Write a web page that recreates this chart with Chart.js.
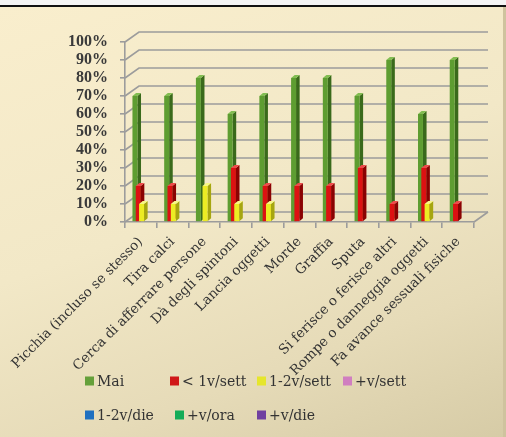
<!DOCTYPE html>
<html>
<head>
<meta charset="utf-8">
<script src="https://cdn.jsdelivr.net/npm/chart.js@4"></script>
<style>
  html, body { margin: 0; padding: 0; background: #f4f4f4; }
  #wrap { position: relative; width: 506px; height: 437px; overflow: hidden; }
  #bg {
    position: absolute; left: 0; top: 5px; width: 506px; height: 432px;
    border-top: 2px solid #111;
    background: linear-gradient(160deg, #f9eecd 0%, #f2e8c7 45%, #e6dbb8 75%, #d6cba6 100%);
  }
  #edge { position: absolute; right: 0; top: 7px; width: 3px; height: 430px; background: #cfc39e; }
  canvas { position: absolute; left: 0; top: 0; }
</style>
</head>
<body>
<div id="wrap">
  <div id="bg"></div>
  <div id="edge"></div>
  <canvas id="chart" width="506" height="437"></canvas>
</div>
<script>
// categorie e serie
const categories = [
  'Picchia (incluso se stesso)', 'Tira calci', 'Cerca di afferrare persone',
  'Dà degli spintoni', 'Lancia oggetti', 'Morde', 'Graffia', 'Sputa',
  'Si ferisce o ferisce altri', 'Rompe o danneggia oggetti', 'Fa avance sessuali fisiche'
];
const seriesNames = ['Mai', '< 1v/sett', '1-2v/sett', '+v/sett', '1-2v/die', '+v/ora', '+v/die'];
const mai         = [70, 70, 80, 60, 70, 80, 80, 70, 90, 60, 90];
const menoUnaSett = [20, 20, 0, 30, 20, 20, 20, 30, 10, 30, 10];
const unaDueSett  = [10, 10, 20, 10, 10, 0, 0, 0, 0, 10, 0];
const piuSett     = [0, 0, 0, 0, 0, 0, 0, 0, 0, 0, 0];
const unaDueDie   = [0, 0, 0, 0, 0, 0, 0, 0, 0, 0, 0];
const piuOra      = [0, 0, 0, 0, 0, 0, 0, 0, 0, 0, 0];
const piuDie      = [0, 0, 0, 0, 0, 0, 0, 0, 0, 0, 0];
const yTicks = [0, 10, 20, 30, 40, 50, 60, 70, 80, 90, 100];

const seriesValues = [mai, menoUnaSett, unaDueSett, piuSett, unaDueDie, piuOra, piuDie];
// front, side, top, legend
const palette = [
  ['#5e9d31', '#3a6a1b', '#82bd52', '#65a03a'],
  ['#dc1212', '#8a0202', '#ef4a4a', '#d01818'],
  ['#ecec24', '#a6a610', '#f7f784', '#e6e62c'],
  ['#d27cbc', '#925480', '#e6a6d6', '#d07ec0'],
  ['#1f6fbf', '#144c86', '#5a98d8', '#1f70c0'],
  ['#14a854', '#0c7038', '#4cc880', '#14ac58'],
  ['#7038a0', '#4c2470', '#9a68c4', '#7040a0'],
];

const DX = 14, DY = -10;      // profondità pareti
const BDX = 3.6, BDY = -3;    // profondità barre
const SHIFT = 4;

const wall3d = {
  id: 'wall3d',
  beforeDatasetsDraw(chart) {
    const { ctx, chartArea: a, scales } = chart;
    ctx.save();
    ctx.strokeStyle = '#9c9c9c';
    ctx.lineWidth = 1.6;
    yTicks.forEach((v) => {
      const y = scales.y.getPixelForValue(v);
      ctx.beginPath();
      ctx.moveTo(a.left, y);
      ctx.lineTo(a.left + DX, y + DY);
      ctx.lineTo(a.right + DX, y + DY);
      ctx.stroke();
    });
    ctx.beginPath();
    ctx.moveTo(a.right, a.bottom);
    ctx.lineTo(a.right + DX, a.bottom + DY);
    ctx.stroke();
    ctx.restore();
  },
  beforeDatasetDraw() {
    return false; // le barre sono disegnate sotto, in 3D
  },
  afterDatasetsDraw(chart) {
    const { ctx } = chart;
    ctx.save();
    for (let i = 0; i < categories.length; i++) {
      for (let d = 0; d < seriesValues.length; d++) {
        if (!seriesValues[d][i]) continue;
        const bar = chart.getDatasetMeta(d).data[i];
        const { x, y, base, width } = bar.getProps(['x', 'y', 'base', 'width'], true);
        const l = x - width / 2 + SHIFT, r = x + width / 2 + SHIFT;
        const [front, side, top] = palette[d];
        ctx.fillStyle = side;
        ctx.beginPath();
        ctx.moveTo(r, base);
        ctx.lineTo(r + BDX, base + BDY);
        ctx.lineTo(r + BDX, y + BDY);
        ctx.lineTo(r, y);
        ctx.closePath();
        ctx.fill();
        ctx.fillStyle = top;
        ctx.beginPath();
        ctx.moveTo(l, y);
        ctx.lineTo(l + BDX, y + BDY);
        ctx.lineTo(r + BDX, y + BDY);
        ctx.lineTo(r, y);
        ctx.closePath();
        ctx.fill();
        ctx.fillStyle = front;
        ctx.fillRect(l, y, r - l, base - y);
      }
    }
    ctx.restore();
  },
  afterDraw(chart) {
    // legenda in due righe, come nell'originale
    const { ctx } = chart;
    const rows = [[0, 1, 2, 3], [4, 5, 6]];
    const colX = [[85, 170, 257, 343], [85, 175, 257]];
    const rowY = [381, 415];
    ctx.save();
    ctx.font = '14px "DejaVu Serif"';
    ctx.textBaseline = 'middle';
    rows.forEach((row, ri) => {
      row.forEach((d, ci) => {
        const x = colX[ri][ci], y = rowY[ri];
        ctx.fillStyle = palette[d][3];
        ctx.fillRect(x, y - 4.5, 9, 9);
        ctx.fillStyle = '#333';
        ctx.fillText(seriesNames[d], x + 12, y + 1);
      });
    });
    ctx.restore();
  }
};

new Chart(document.getElementById('chart'), {
  type: 'bar',
  data: {
    labels: categories,
    datasets: seriesNames.map((name, d) => ({
      label: name,
      data: seriesValues[d],
      backgroundColor: palette[d][0],
      borderWidth: 0,
      categoryPercentage: 0.73,
      barPercentage: 1.5,
    })),
  },
  options: {
    responsive: false,
    animation: false,
    layout: { padding: { top: 42, right: 32, left: 0, bottom: 0 } },
    plugins: { legend: { display: false }, tooltip: { enabled: false } },
    scales: {
      x: {
        afterFit: (s) => { s.height = 215; },
        grid: { display: true, drawOnChartArea: false, tickLength: 6, color: '#9c9c9c', lineWidth: 1.6, offset: true },
        border: { display: true, color: '#9c9c9c', width: 1.6 },
        ticks: {
          minRotation: 45, maxRotation: 45, autoSkip: false, padding: 6,
          color: '#333', font: { family: 'DejaVu Serif', size: 13.5 },
        },
      },
      y: {
        min: 0, max: 100,
        afterFit: (s) => { s.width = 125; },
        afterBuildTicks: (s) => { s.ticks = yTicks.map((v) => ({ value: v })); },
        grid: { display: true, drawOnChartArea: false, tickLength: 5, color: '#9c9c9c', lineWidth: 1.6 },
        border: { display: true, color: '#9c9c9c', width: 1.6 },
        ticks: {
          autoSkip: false, stepSize: 10,
          padding: 12, color: '#3a3a3a',
          font: { family: 'Liberation Serif', size: 16, weight: 'bold' },
          callback: (v) => v + '%',
        },
      },
    },
  },
  plugins: [wall3d],
});
</script>
</body>
</html>
